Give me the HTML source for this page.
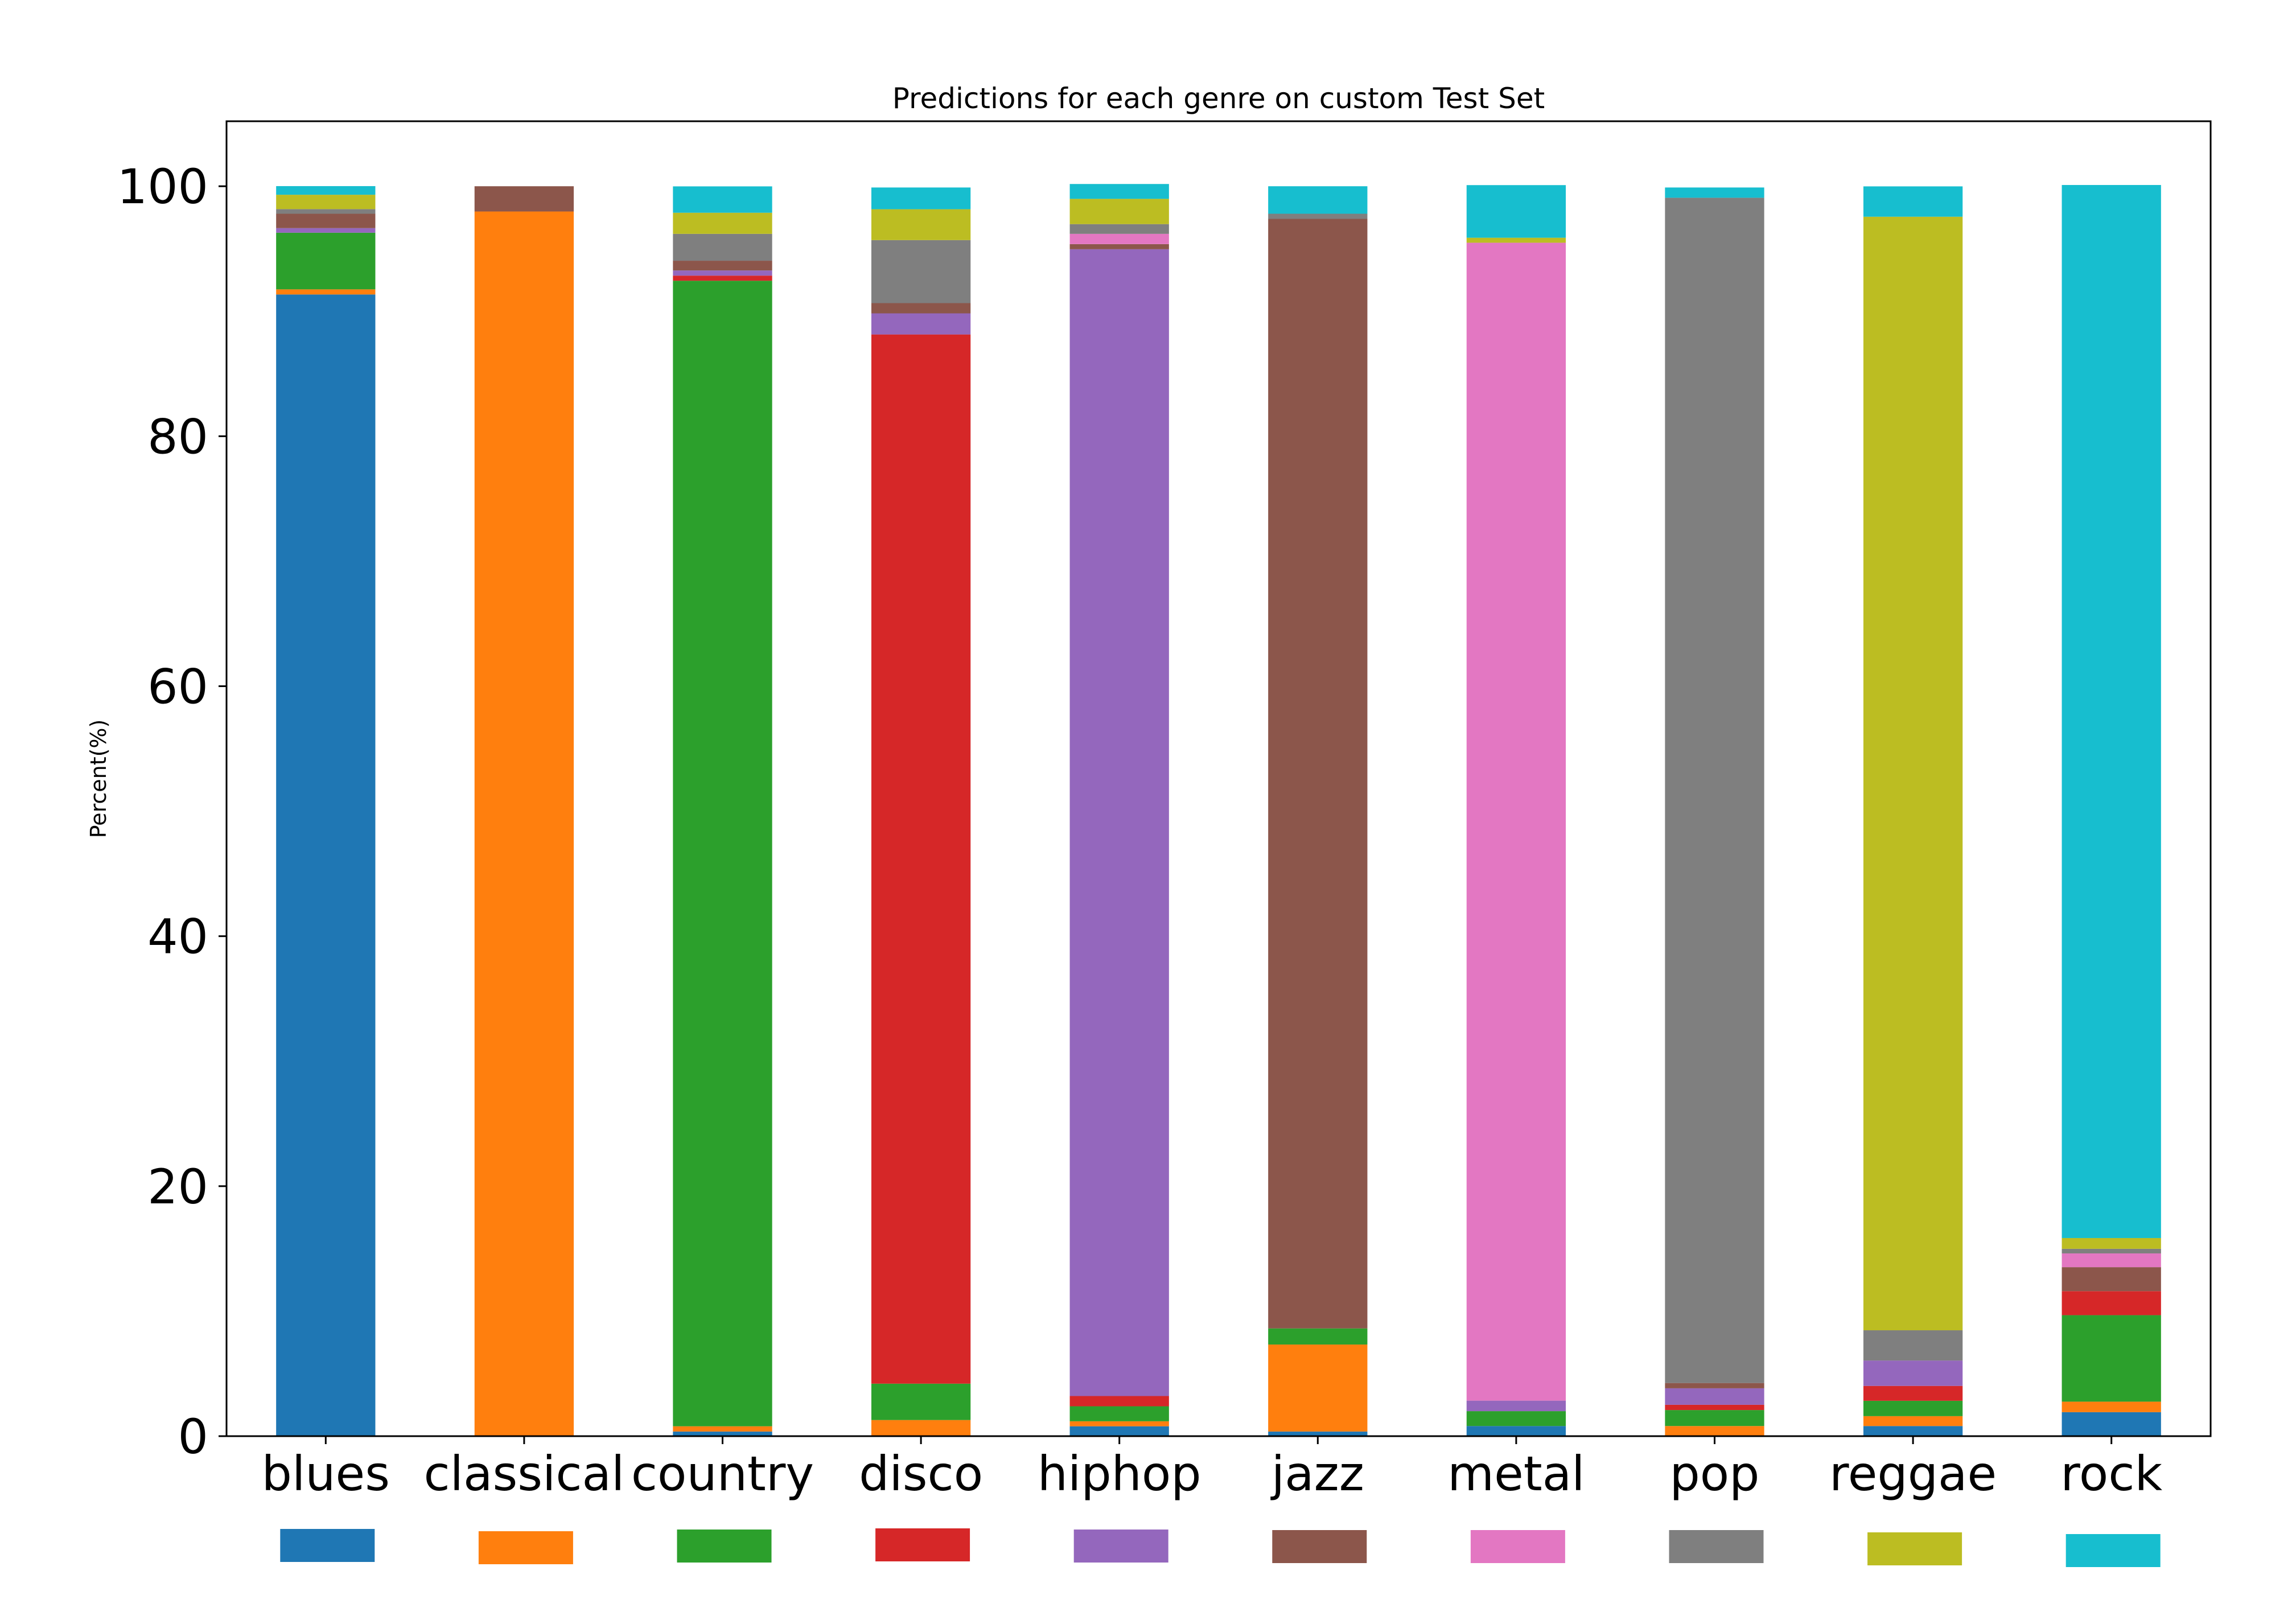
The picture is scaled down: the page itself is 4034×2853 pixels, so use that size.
<!DOCTYPE html>
<html><head><meta charset="utf-8">
<style>
html,body{margin:0;padding:0;background:#fff;}
svg{display:block;}
text{font-family:"DejaVu Sans","Liberation Sans",sans-serif;fill:#000;}
</style></head>
<body>
<svg id="chart" width="4034" height="2853" viewBox="0 0 4034 2853">
<rect width="4034" height="2853" fill="#fff"></rect>
<text x="2141" y="190" font-size="50" text-anchor="middle">Predictions for each genre on custom Test Set</text>
<text x="0" y="0" font-size="38" text-anchor="middle" transform="translate(186,1368) rotate(-90)">Percent(%)</text>
<g id="bars"></g>
<g id="axes"></g>
<g id="legend"></g>
</svg>
<script>
const categories = ["blues","classical","country","disco","hiphop","jazz","metal","pop","reggae","rock"];
const colors = ["#1f77b4","#ff7f0e","#2ca02c","#d62728","#9467bd","#8c564b","#e377c2","#7f7f7f","#bcbd22","#17becf"];
// each series = predicted class; values per actual genre bar
const sBlues     = [91.34, 0,     0.37,  0,     0.79,  0.37,  0.81,  0,     0.81,  1.92];
const sClassical = [0.41,  97.98, 0.42,  1.29,  0.40,  6.96,  0,     0.81,  0.79,  0.84];
const sCountry   = [4.53,  0,     91.65, 2.91,  1.20,  1.29,  1.19,  1.28,  1.23,  6.92];
const sDisco     = [0,     0,     0.41,  83.94, 0.82,  0,     0,     0.42,  1.19,  1.92];
const sHiphop    = [0.37,  0,     0.41,  1.69,  91.75, 0,     0.84,  1.32,  2.03,  0];
const sJazz      = [1.15,  2.02,  0.78,  0.82,  0.41,  88.77, 0,     0.42,  0,     1.92];
const sMetal     = [0,     0,     0,     0,     0.82,  0,     92.64, 0,     0,     1.10];
const sPop       = [0.37,  0,     2.15,  5.04,  0.78,  0.41,  0,     94.83, 2.42,  0.37];
const sReggae    = [1.15,  0,     1.69,  2.47,  2.02,  0,     0.40,  0,     89.09, 0.86];
const sRock      = [0.69,  0,     2.11,  1.74,  1.19,  2.20,  4.21,  0.82,  2.43,  84.25];
const yTicks = [0, 20, 40, 60, 80, 100];

const series = [sBlues,sClassical,sCountry,sDisco,sHiphop,sJazz,sMetal,sPop,sReggae,sRock];
const NS = "http://www.w3.org/2000/svg";
const L = 398, R = 3884, T = 213, B = 2523;
const yMax = 105.2;
function yScale(v){ return B - (v / yMax) * (B - T); }
const step = (R - L) / categories.length;
function xCenter(i){ return L + step * (i + 0.5); }
const barW = step * 0.5;
function mk(tag, attrs){ const e = document.createElementNS(NS, tag); for (const k in attrs) e.setAttribute(k, attrs[k]); return e; }

const barsG = document.getElementById('bars');
categories.forEach((cat, i) => {
  let cum = 0;
  series.forEach((s, k) => {
    const v = s[i];
    if (v <= 0) return;
    const y0 = yScale(cum), y1 = yScale(cum + v);
    const r = mk('rect', {x: xCenter(i) - barW/2, y: y1, width: barW, height: y0 - y1, fill: colors[k]});
    
    
    barsG.appendChild(r);
    cum += v;
  });
});

const axG = document.getElementById('axes');
const frame = mk('rect', {x: L, y: T, width: R - L, height: B - T, fill: 'none', stroke: '#000', 'stroke-width': 3});


axG.appendChild(frame);
yTicks.forEach(t => {
  const y = yScale(t);
  const ln = mk('line', {x1: L - 14, x2: L, y1: y, y2: y, stroke: '#000', 'stroke-width': 3});
  
  
  axG.appendChild(ln);
  const tx = mk('text', {x: L - 32, y: y + 30, 'font-size': 84, 'text-anchor': 'end'});
  tx.textContent = t;
  
  
  axG.appendChild(tx);
});
categories.forEach((cat, i) => {
  const x = xCenter(i);
  const ln = mk('line', {x1: x, x2: x, y1: B, y2: B + 14, stroke: '#000', 'stroke-width': 3});
  
  
  axG.appendChild(ln);
  const tx = mk('text', {x: x, y: 2618, 'font-size': 84, 'text-anchor': 'middle'});
  tx.textContent = cat;
  
  
  axG.appendChild(tx);
});

const legG = document.getElementById('legend');
const legTop = [2686, 2690, 2687, 2685, 2687, 2688, 2688, 2688, 2692, 2695];
categories.forEach((cat, i) => {
  const r = mk('rect', {x: xCenter(i) - 80, y: legTop[i], width: 166, height: 58, fill: colors[i]});
  
  
  legG.appendChild(r);
});
</script>
</body></html>
